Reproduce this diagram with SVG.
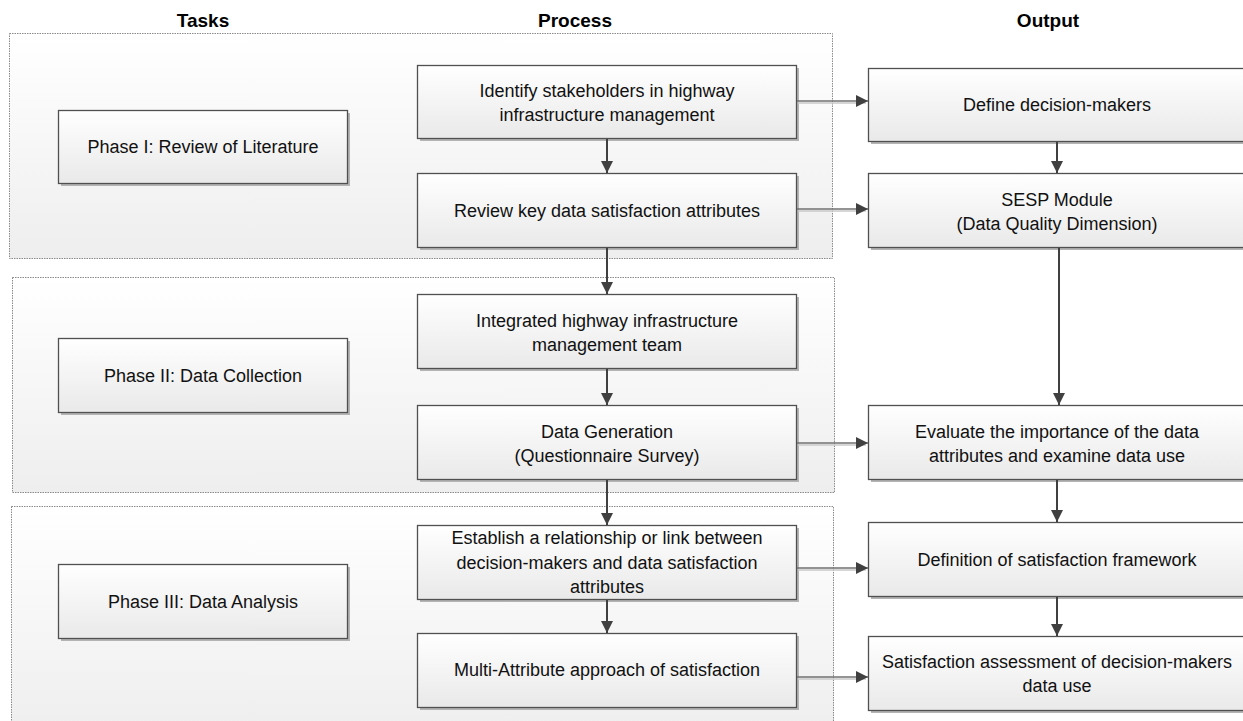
<svg xmlns="http://www.w3.org/2000/svg" width="1243" height="721" viewBox="0 0 1243 721">
<defs>
<linearGradient id="gBox" x1="0" y1="0" x2="0" y2="1">
<stop offset="0" stop-color="#ffffff"/>
<stop offset="1" stop-color="#e9e9e9"/>
</linearGradient>
<linearGradient id="gCont" x1="0" y1="0" x2="0" y2="1">
<stop offset="0" stop-color="#ffffff"/>
<stop offset="1" stop-color="#eeeeee"/>
</linearGradient>
<marker id="ah" viewBox="0 0 12 12" refX="12" refY="6" markerWidth="12" markerHeight="12" markerUnits="userSpaceOnUse" orient="auto">
<path d="M0,0 L12,6 L0,12 Z" fill="#404040"/>
</marker>
<marker id="ahH" viewBox="0 0 12 12" refX="12" refY="6" markerWidth="12" markerHeight="12" markerUnits="userSpaceOnUse" orient="auto">
<path d="M0,0 L12,6 L0,12 Z" fill="#404040"/>
</marker>
</defs>
<style>
.cont{fill:url(#gCont);stroke:#8a8a8a;stroke-width:1;stroke-dasharray:1.5 1;}
.shadow{fill:#b4b4b4;}
.box{fill:url(#gBox);stroke:#505050;stroke-width:1.3;}
.t{font-family:"Liberation Sans",Arial,sans-serif;font-size:18px;fill:#111;text-anchor:middle;}
.h{font-family:"Liberation Sans",Arial,sans-serif;font-size:19px;font-weight:bold;fill:#000;text-anchor:middle;}
.v{stroke:#404040;stroke-width:2;fill:none;marker-end:url(#ah);}
.hz{stroke:#707070;stroke-width:1.3;fill:none;marker-end:url(#ahH);}
.hzs{stroke:#c8c8c8;stroke-width:1.3;fill:none;}
</style>
<rect width="1243" height="721" fill="#ffffff"/>

<g id="headers">
<text class="h" x="203" y="27">Tasks</text>
<text class="h" x="575" y="27">Process</text>
<text class="h" x="1048" y="27">Output</text>
</g>

<g id="phase1-container"><rect class="cont" x="9.5" y="33.5" width="823" height="225"/></g>
<g id="phase2-container"><rect class="cont" x="12.5" y="277.5" width="822" height="215"/></g>
<g id="phase3-container"><rect class="cont" x="11.5" y="506.5" width="822" height="230"/></g>

<g id="phase1">
<rect class="shadow" x="61" y="113" width="289" height="73"/>
<rect class="box" x="58.5" y="110.5" width="289" height="73"/>
<text class="t" x="203" y="153">Phase I: Review of Literature</text>
</g>
<g id="phase2">
<rect class="shadow" x="61" y="341" width="289" height="74"/>
<rect class="box" x="58.5" y="338.5" width="289" height="74"/>
<text class="t" x="203" y="382">Phase II: Data Collection</text>
</g>
<g id="phase3">
<rect class="shadow" x="61" y="567" width="289" height="74"/>
<rect class="box" x="58.5" y="564.5" width="289" height="74"/>
<text class="t" x="203" y="608">Phase III: Data Analysis</text>
</g>

<g id="identify">
<rect class="shadow" x="420" y="68" width="379" height="73"/>
<rect class="box" x="417.5" y="65.5" width="379" height="73"/>
<text class="t" x="607" y="96.5">Identify stakeholders in highway</text>
<text class="t" x="607" y="121">infrastructure management</text>
</g>
<g id="review">
<rect class="shadow" x="420" y="176" width="379" height="74"/>
<rect class="box" x="417.5" y="173.5" width="379" height="74"/>
<text class="t" x="607" y="216.5">Review key data satisfaction attributes</text>
</g>
<g id="integrated">
<rect class="shadow" x="420" y="297" width="379" height="74"/>
<rect class="box" x="417.5" y="294.5" width="379" height="74"/>
<text class="t" x="607" y="326.5">Integrated highway infrastructure</text>
<text class="t" x="607" y="351">management team</text>
</g>
<g id="datagen">
<rect class="shadow" x="420" y="408" width="379" height="74"/>
<rect class="box" x="417.5" y="405.5" width="379" height="74"/>
<text class="t" x="607" y="437.5">Data Generation</text>
<text class="t" x="607" y="462">(Questionnaire Survey)</text>
</g>
<g id="establish">
<rect class="shadow" x="420" y="528" width="379" height="74"/>
<rect class="box" x="417.5" y="525.5" width="379" height="74"/>
<text class="t" x="607" y="544">Establish a relationship or link between</text>
<text class="t" x="607" y="568.5">decision-makers and data satisfaction</text>
<text class="t" x="607" y="593">attributes</text>
</g>
<g id="multi">
<rect class="shadow" x="420" y="636" width="379" height="74"/>
<rect class="box" x="417.5" y="633.5" width="379" height="74"/>
<text class="t" x="607" y="676">Multi-Attribute approach of satisfaction</text>
</g>

<g id="define">
<rect class="shadow" x="871" y="71" width="380" height="73"/>
<rect class="box" x="868.5" y="68.5" width="380" height="73"/>
<text class="t" x="1057" y="111">Define decision-makers</text>
</g>
<g id="sesp">
<rect class="shadow" x="871" y="176" width="380" height="74"/>
<rect class="box" x="868.5" y="173.5" width="380" height="74"/>
<text class="t" x="1057" y="205.5">SESP Module</text>
<text class="t" x="1057" y="230">(Data Quality Dimension)</text>
</g>
<g id="evaluate">
<rect class="shadow" x="871" y="408" width="380" height="74"/>
<rect class="box" x="868.5" y="405.5" width="380" height="74"/>
<text class="t" x="1057" y="437.5">Evaluate the importance of the data</text>
<text class="t" x="1057" y="462">attributes and examine data use</text>
</g>
<g id="definition">
<rect class="shadow" x="871" y="525" width="380" height="74"/>
<rect class="box" x="868.5" y="522.5" width="380" height="74"/>
<text class="t" x="1057" y="565.5">Definition of satisfaction framework</text>
</g>
<g id="assessment">
<rect class="shadow" x="871" y="639" width="380" height="74"/>
<rect class="box" x="868.5" y="636.5" width="380" height="74"/>
<text class="t" x="1057" y="667.5">Satisfaction assessment of decision-makers</text>
<text class="t" x="1057" y="692">data use</text>
</g>

<g id="connectors">
<path class="v" d="M607,139 V173"/>
<path class="v" d="M607,248 V294"/>
<path class="v" d="M607,369 V405"/>
<path class="v" d="M607,480 V525"/>
<path class="v" d="M607,600 V633"/>
<path class="v" d="M1057,142 V173"/>
<path class="v" d="M1059,248 V405"/>
<path class="v" d="M1057,480 V522"/>
<path class="v" d="M1057,597 V636"/>
<path class="hzs" d="M798,103 H866"/>
<path class="hzs" d="M798,211 H866"/>
<path class="hzs" d="M798,445 H866"/>
<path class="hzs" d="M798,570 H866"/>
<path class="hzs" d="M798,679 H866"/>
<path class="hz" d="M797,101 H868"/>
<path class="hz" d="M797,209 H868"/>
<path class="hz" d="M797,443 H868"/>
<path class="hz" d="M797,568 H868"/>
<path class="hz" d="M797,677 H868"/>
</g>
</svg>
